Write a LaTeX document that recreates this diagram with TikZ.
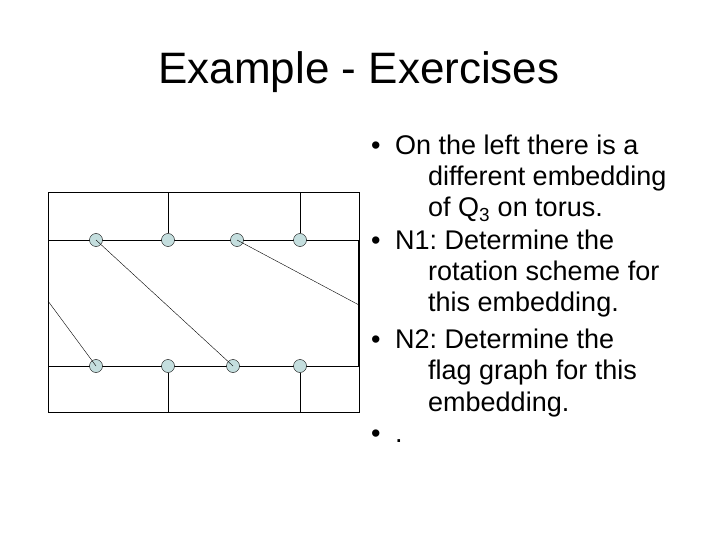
\documentclass[tikz,border=0pt]{standalone}
\usepackage{fontspec}
\setmainfont{Liberation Sans}
\definecolor{vfill}{HTML}{C4DEDE}
\frenchspacing
\begin{document}
\begin{tikzpicture}[x=1pt,y=-1pt,
  vtx/.style={circle,draw,fill=vfill,minimum size=13pt,inner sep=0pt},
  ln/.style={line width=1pt},
  txt/.style={anchor=base west,font=\fontsize{27}{27}\selectfont,inner sep=0pt}]
\useasboundingbox (0,0) rectangle (720,540);
\node[font=\fontsize{44}{44}\selectfont,anchor=base,inner sep=0pt] (title) at (359,84) {Example - Exercises};
\draw[ln] (48,193) rectangle (359,412);
\draw[line width=2pt] (359,240) -- (359,366);
\coordinate (t2) at (168,193); \coordinate (t4) at (300,193);
\coordinate (b2) at (168,412); \coordinate (b4) at (300,412);
\coordinate (l1) at (48,240); \coordinate (r1) at (359,240);
\coordinate (l2) at (48,366); \coordinate (r2) at (359,366);
\coordinate (lm) at (48,301); \coordinate (rm) at (359,305);
\draw[ln] (l1) -- (r1); \draw[ln] (l2) -- (r2);
\node[vtx] (a1) at (96,240) {}; \node[vtx] (a2) at (168,240) {};
\node[vtx] (a3) at (237,240) {}; \node[vtx] (a4) at (300,240) {};
\node[vtx] (c1) at (96,366) {}; \node[vtx] (c2) at (168,366) {};
\node[vtx] (c3) at (233,366) {}; \node[vtx] (c4) at (300,366) {};
\draw[ln] (t2) -- (a2); \draw[ln] (t4) -- (a4);
\draw[ln] (b2) -- (c2); \draw[ln] (b4) -- (c4);
\draw (lm) -- (c1.center); \draw (a1.center) -- (c3.center); \draw (a3.center) -- (rm);
\foreach \y/\n in {155/b1,249/b2,348/b3,442/b4} \node[txt] (\n) at (371,\y) {•};
\node[txt] (s1) at (395,155) {On the left there is a};
\node[txt] (s2) at (428,186) {different embedding};
\node[txt] (s3) at (428,217) {of Q\textsubscript{3} on torus.};
\node[txt] (s4) at (395,249) {N1: Determine the};
\node[txt] (s5) at (428,280) {rotation scheme for};
\node[txt] (s6) at (428,311) {this embedding.};
\node[txt] (s7) at (395,348) {N2: Determine the};
\node[txt] (s8) at (428,379) {flag graph for this};
\node[txt] (s9) at (428,411) {embedding.};
\node[txt] (s10) at (395,442) {.};
\end{tikzpicture}
\end{document}
